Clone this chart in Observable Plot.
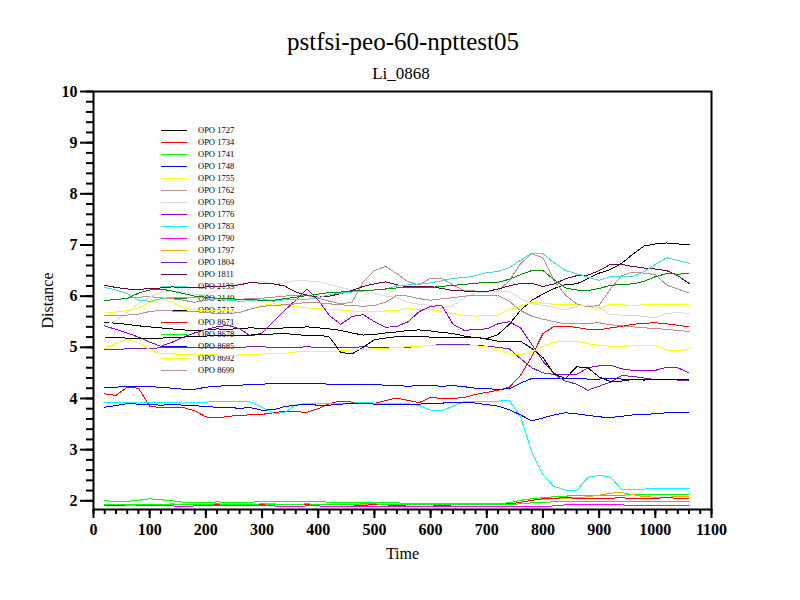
<!DOCTYPE html>
<html>
<head>
<meta charset="utf-8">
<script src="https://cdn.jsdelivr.net/npm/d3@7"></script>
<script src="https://cdn.jsdelivr.net/npm/@observablehq/plot@0.6"></script>
<style>
  body { margin: 0; background: #fff; }
  #wrap { position: relative; width: 800px; height: 600px; overflow: hidden; background: #fff; font-family: "Liberation Serif", serif; }
  #title { position: absolute; left: 3px; width: 800px; top: 29px; text-align: center; font-size: 25px; line-height: 1; }
  #subtitle { position: absolute; left: 1px; width: 800px; top: 65px; text-align: center; font-size: 17px; line-height: 1; }
  #legend { position: absolute; left: 0; top: 0; z-index: 0; }
  .row { position: absolute; height: 12px; }
  .sw { position: absolute; left: 161px; width: 26px; height: 1px; top: 6px; }
  .lab { position: absolute; left: 198px; top: 0; font-size: 8.5px; line-height: 12px; white-space: nowrap; color: #000; }
  #chart svg { position: absolute; left: 0; top: 0; z-index: 1; background: transparent; }
</style>
</head>
<body>
<div id="wrap">
  <div id="title">pstfsi-peo-60-npttest05</div>
  <div id="subtitle">Li_0868</div>
  <div id="legend"></div>
  <div id="chart"></div>
</div>
<script>
const t = [20,40,60,80,100,120,140,160,180,200,220,240,260,280,300,320,340,360,380,400,420,440,460,480,500,520,540,560,580,600,620,640,660,680,700,720,740,760,780,800,820,840,860,880,900,920,940,960,980,1000,1020,1040,1060];

const opo1727 = [5.49,5.47,5.45,5.42,5.40,5.38,5.36,5.34,5.33,5.34,
 5.36,5.35,5.37,5.38,5.37,5.36,5.38,5.38,5.40,5.38,
 5.36,5.33,5.28,5.24,5.25,5.28,5.30,5.33,5.34,5.32,
 5.29,5.27,5.22,5.19,5.17,5.25,5.45,5.72,5.92,6.04,
 6.15,6.23,6.24,6.34,6.45,6.52,6.64,6.82,6.98,7.02,
 7.04,7.02,7.01];
const opo1734 = [4.09,4.06,4.22,4.20,3.85,3.82,3.83,3.82,3.76,3.64,
 3.62,3.65,3.67,3.68,3.69,3.72,3.75,3.74,3.73,3.80,
 3.90,3.95,3.93,3.91,3.90,3.96,4.01,3.96,3.92,4.02,
 4.00,4.00,4.02,4.08,4.12,4.16,4.22,4.45,4.82,5.27,
 5.41,5.41,5.39,5.35,5.34,5.38,5.41,5.45,5.47,5.48,
 5.46,5.43,5.40];
const opo1741 = [2.00,1.99,1.99,2.01,2.04,2.02,2.00,1.97,1.96,1.96,
 1.98,1.96,1.96,1.97,1.99,1.99,1.98,1.98,1.99,1.99,
 1.97,1.96,1.96,1.96,1.97,1.96,1.96,1.95,1.95,1.95,
 1.95,1.95,1.95,1.95,1.95,1.95,1.96,2.01,2.04,2.06,
 2.08,2.09,2.11,2.11,2.10,2.11,2.11,2.12,2.12,2.12,
 2.12,2.12,2.12];
const opo1748 = [4.21,4.22,4.24,4.24,4.23,4.22,4.20,4.18,4.18,4.22,
 4.24,4.25,4.26,4.27,4.28,4.29,4.29,4.30,4.29,4.29,
 4.28,4.27,4.27,4.28,4.27,4.26,4.25,4.24,4.25,4.25,
 4.24,4.25,4.23,4.20,4.19,4.18,4.19,4.30,4.39,4.40,
 4.39,4.39,4.39,4.38,4.38,4.39,4.38,4.38,4.38,4.37,
 4.38,4.37,4.37];
const opo1755 = [5.69,5.69,5.72,5.77,5.88,5.95,5.88,5.77,5.73,5.72,
 5.73,5.72,5.67,5.75,5.82,5.85,5.82,5.80,5.77,5.76,
 5.74,5.73,5.71,5.69,5.70,5.71,5.72,5.76,5.74,5.74,
 5.70,5.66,5.62,5.61,5.62,5.63,5.74,5.80,5.88,5.86,
 5.84,5.83,5.83,5.79,5.76,5.84,5.83,5.82,5.83,5.84,
 5.83,5.83,5.83];
const opo1762 = [5.92,5.93,5.96,5.98,5.99,5.97,5.95,5.92,5.88,5.92,
 5.95,5.94,5.94,5.95,5.96,5.98,6.00,6.02,6.01,5.96,
 5.90,5.85,5.88,6.28,6.50,6.58,6.44,6.28,6.22,6.35,
 6.35,6.22,6.11,6.10,6.10,6.10,6.30,6.63,6.83,6.75,
 6.30,6.02,5.85,5.79,5.82,6.14,6.40,6.47,6.45,6.42,
 6.22,6.14,6.06];
const opo1769 = [5.45,5.52,5.68,5.85,5.98,6.08,6.10,6.08,6.04,6.02,
 6.12,6.20,6.24,6.27,6.28,6.24,6.26,6.30,6.30,6.28,
 6.23,6.17,6.12,6.09,6.05,6.00,5.97,5.88,5.84,5.82,
 5.76,5.82,5.96,6.06,6.08,6.09,6.10,5.95,5.85,5.82,
 5.78,5.73,5.80,5.83,5.78,5.64,5.63,5.63,5.60,5.58,
 5.66,5.68,5.66];
const opo1776 = [5.42,5.35,5.28,5.20,5.10,5.02,5.10,5.20,5.28,5.35,
 5.40,5.43,5.36,5.22,5.28,5.50,5.72,5.92,6.14,5.92,
 5.62,5.45,5.60,5.64,5.50,5.39,5.41,5.50,5.70,5.80,
 5.82,5.45,5.33,5.35,5.36,5.46,5.50,5.38,5.06,4.73,
 4.48,4.47,4.47,4.60,4.64,4.65,4.58,4.55,4.54,4.55,
 4.61,4.60,4.50];
const opo1783 = [3.92,3.92,3.92,3.91,3.92,3.92,3.92,3.91,3.92,3.93,
 3.94,3.95,3.94,3.93,3.82,3.71,3.72,3.88,3.90,3.91,
 3.90,3.90,3.91,3.92,3.91,3.90,3.91,3.90,3.86,3.77,
 3.76,3.85,3.94,3.95,3.95,3.95,3.96,3.65,2.95,2.50,
 2.28,2.21,2.20,2.46,2.50,2.46,2.22,2.22,2.23,2.24,
 2.24,2.25,2.25];
const opo1790 = [1.90,1.90,1.90,1.90,1.90,1.90,1.90,1.89,1.90,1.90,
 1.90,1.90,1.90,1.90,1.90,1.90,1.89,1.89,1.90,1.90,
 1.89,1.89,1.89,1.89,1.89,1.89,1.89,1.88,1.88,1.88,
 1.88,1.88,1.88,1.88,1.88,1.88,1.88,1.89,1.89,1.89,
 1.90,1.92,1.92,1.93,1.93,1.92,1.92,1.91,1.91,1.91,
 1.91,1.91,1.91];
const opo1797 = [1.92,1.92,1.91,1.92,1.92,1.93,1.94,1.93,1.92,1.92,
 1.92,1.92,1.93,1.93,1.94,1.94,1.93,1.92,1.92,1.92,
 1.92,1.92,1.93,1.93,1.93,1.93,1.93,1.93,1.93,1.93,
 1.93,1.93,1.93,1.93,1.93,1.93,1.94,1.97,2.01,2.03,
 2.04,2.05,2.06,2.08,2.11,2.15,2.16,2.12,2.08,2.07,
 2.07,2.08,2.08];
const opo1804 = [4.95,4.96,4.97,4.97,4.98,4.99,5.00,5.00,5.00,4.99,
 5.00,5.00,5.00,5.01,5.01,5.00,5.00,5.00,5.01,5.00,
 5.00,5.00,5.00,5.01,5.00,5.00,5.00,5.00,5.02,5.04,
 5.05,5.05,5.05,5.04,5.02,5.00,4.97,4.78,4.60,4.50,
 4.47,4.34,4.28,4.16,4.24,4.32,4.45,4.43,4.40,4.37,
 4.37,4.36,4.36];
const opo1811 = [6.21,6.17,6.14,6.13,6.15,6.16,6.18,6.17,6.16,6.18,
 6.19,6.20,6.22,6.27,6.25,6.24,6.20,6.08,6.02,5.98,
 6.00,6.05,6.11,6.19,6.24,6.28,6.22,6.18,6.18,6.19,
 6.15,6.11,6.10,6.10,6.09,6.14,6.20,6.25,6.25,6.19,
 6.24,6.34,6.40,6.41,6.50,6.62,6.62,6.58,6.55,6.53,
 6.50,6.40,6.25];
const opo2133 = [6.17,6.12,6.05,5.92,5.90,5.95,5.98,5.98,5.97,5.98,
 5.96,5.92,5.90,5.91,5.95,5.90,5.93,5.93,5.94,5.97,
 6.03,6.06,6.08,6.10,6.12,6.14,6.20,6.22,6.24,6.26,
 6.30,6.35,6.36,6.40,6.46,6.48,6.56,6.70,6.84,6.83,
 6.65,6.50,6.44,6.37,6.31,6.38,6.39,6.38,6.48,6.62,
 6.75,6.70,6.64];
const opo2140 = [5.92,5.93,5.96,6.06,6.12,6.14,6.10,6.05,6.00,5.98,
 5.96,5.95,5.94,5.93,5.92,5.92,5.95,5.98,6.01,6.04,
 6.07,6.08,6.10,6.11,6.12,6.14,6.16,6.16,6.17,6.17,
 6.19,6.21,6.23,6.25,6.27,6.27,6.33,6.42,6.50,6.50,
 6.32,6.16,6.12,6.11,6.15,6.21,6.23,6.24,6.29,6.38,
 6.44,6.43,6.44];
const opo5717 = [5.20,5.19,5.18,5.17,5.17,5.18,5.19,5.20,5.21,5.22,
 5.23,5.23,5.24,5.24,5.25,5.26,5.27,5.25,5.23,5.24,
 5.20,4.90,4.87,5.00,5.15,5.18,5.21,5.21,5.21,5.20,
 5.20,5.20,5.20,5.20,5.16,5.12,5.12,5.12,4.98,4.80,
 4.48,4.39,4.62,4.60,4.42,4.33,4.34,4.37,4.36,4.37,
 4.37,4.37,4.37];
const opo8671 = [1.92,1.91,1.92,1.92,1.93,1.92,1.92,1.93,1.92,1.93,
 1.92,1.93,1.92,1.92,1.93,1.92,1.92,1.93,1.92,1.92,
 1.93,1.92,1.92,1.91,1.93,1.92,1.91,1.92,1.92,1.92,
 1.91,1.92,1.92,1.92,1.92,1.93,1.94,1.97,2.01,2.04,
 2.05,2.06,2.05,2.04,2.05,2.05,2.06,2.04,2.05,2.05,
 2.06,2.05,2.05];
const opo8678 = [1.92,1.93,1.93,1.92,1.93,1.93,1.92,1.93,1.93,1.93,
 1.94,1.93,1.93,1.93,1.94,1.93,1.93,1.93,1.94,1.93,
 1.93,1.93,1.93,1.94,1.94,1.93,1.93,1.93,1.93,1.93,
 1.93,1.93,1.93,1.93,1.93,1.93,1.93,1.94,1.96,1.97,
 1.98,1.98,1.98,1.98,1.98,1.98,1.98,1.98,1.98,1.98,
 1.98,1.98,1.98];
const opo8685 = [3.83,3.86,3.90,3.89,3.88,3.87,3.88,3.87,3.86,3.84,
 3.83,3.82,3.81,3.82,3.77,3.78,3.84,3.87,3.88,3.87,
 3.87,3.89,3.90,3.91,3.89,3.88,3.88,3.88,3.89,3.90,
 3.91,3.92,3.93,3.91,3.88,3.85,3.78,3.68,3.56,3.62,
 3.68,3.72,3.70,3.67,3.64,3.63,3.65,3.68,3.69,3.70,
 3.72,3.73,3.72];
const opo8692 = [4.97,5.08,5.15,5.10,4.95,4.87,4.87,4.86,4.87,4.86,
 4.85,4.84,4.85,4.86,4.87,4.88,4.88,4.91,4.92,4.91,
 4.92,4.93,4.95,4.96,4.97,4.98,5.00,5.01,5.02,5.04,
 5.04,5.04,5.04,5.03,5.01,4.95,4.87,4.86,4.90,5.02,
 5.10,5.12,5.12,5.07,5.04,5.02,5.02,5.03,5.04,5.03,
 4.95,4.93,4.97];
const opo8699 = [5.62,5.62,5.63,5.65,5.70,5.72,5.71,5.70,5.70,5.68,
 5.66,5.66,5.68,5.75,5.80,5.82,5.83,5.85,5.88,5.87,
 5.85,5.83,5.82,5.80,5.82,5.88,6.02,6.00,5.95,5.92,
 5.95,5.97,6.00,6.02,6.02,6.01,5.90,5.72,5.61,5.55,
 5.50,5.46,5.46,5.47,5.48,5.44,5.42,5.40,5.38,5.37,
 5.35,5.33,5.31];

const names = ["OPO 1727","OPO 1734","OPO 1741","OPO 1748","OPO 1755","OPO 1762","OPO 1769","OPO 1776","OPO 1783","OPO 1790","OPO 1797","OPO 1804","OPO 1811","OPO 2133","OPO 2140","OPO 5717","OPO 8671","OPO 8678","OPO 8685","OPO 8692","OPO 8699"];
const series = [opo1727,opo1734,opo1741,opo1748,opo1755,opo1762,opo1769,opo1776,opo1783,opo1790,opo1797,opo1804,opo1811,opo2133,opo2140,opo5717,opo8671,opo8678,opo8685,opo8692,opo8699];
const colors = ["#000000","#ff0000","#00ff00","#0000ff","#ffff00","#bc8f8f","#dcdcdc","#9400d3","#00ffff","#ff00ff","#ffa500","#7221bc","#670748","#40e0d0","#008b00","#000000","#ff0000","#00ff00","#0000ff","#ffff00","#bc8f8f"];

const xMajor = [0,100,200,300,400,500,600,700,800,900,1000,1100];
const yMajor = [2,3,4,5,6,7,8,9,10];

const rows = names.flatMap((n, i) => series[i].map((v, j) => ({t: t[j], v, name: n})));

const xMinor = d3.range(0, 1101, 20);
const yMinor = d3.range(20, 101, 2).map(d => d / 10);

const chart = Plot.plot({
  width: 800,
  height: 600,
  marginTop: 91,
  marginBottom: 91,
  marginLeft: 93,
  marginRight: 89,
  x: {domain: [0, 1100]},
  y: {domain: [1.83, 10]},
  color: {domain: names, range: colors},
  style: {fontFamily: "Liberation Serif", background: "transparent", color: "#000"},
  marks: [
    Plot.axisX({ticks: xMinor, tickSize: 5, strokeWidth: 2, text: null, label: null}),
    Plot.axisX({ticks: xMajor, tickSize: 9, strokeWidth: 2, tickPadding: 5, tickFormat: "d", fontSize: 16, fontWeight: "bold",
      label: "Time", labelAnchor: "center", labelArrow: "none", labelOffset: 49}),
    Plot.axisY({ticks: yMinor, tickSize: 7, strokeWidth: 2, text: null, label: null}),
    Plot.axisY({ticks: yMajor, tickSize: 13, strokeWidth: 2, tickPadding: 3, tickFormat: "d", fontSize: 16, fontWeight: "bold",
      label: "Distance", labelAnchor: "center", labelArrow: "none", labelOffset: 52}),
    Plot.line(rows, {x: "t", y: "v", z: "name", stroke: "name", strokeWidth: 1, shapeRendering: "crispEdges"}),
    Plot.frame({stroke: "#000", strokeWidth: 2})
  ]
});
chart.querySelectorAll('[aria-label="x-axis label"] text, [aria-label="y-axis label"] text').forEach(e => { e.setAttribute("font-size", "16"); e.setAttribute("font-weight", "normal"); });
document.getElementById("chart").appendChild(chart);

const legend = document.getElementById("legend");
names.forEach((n, i) => {
  const row = document.createElement("div");
  row.className = "row";
  row.style.top = (124 + i * 12) + "px";
  const sw = document.createElement("div");
  sw.className = "sw";
  sw.style.background = colors[i];
  const lab = document.createElement("div");
  lab.className = "lab";
  lab.textContent = n;
  row.appendChild(sw);
  row.appendChild(lab);
  legend.appendChild(row);
});
</script>
</body>
</html>
